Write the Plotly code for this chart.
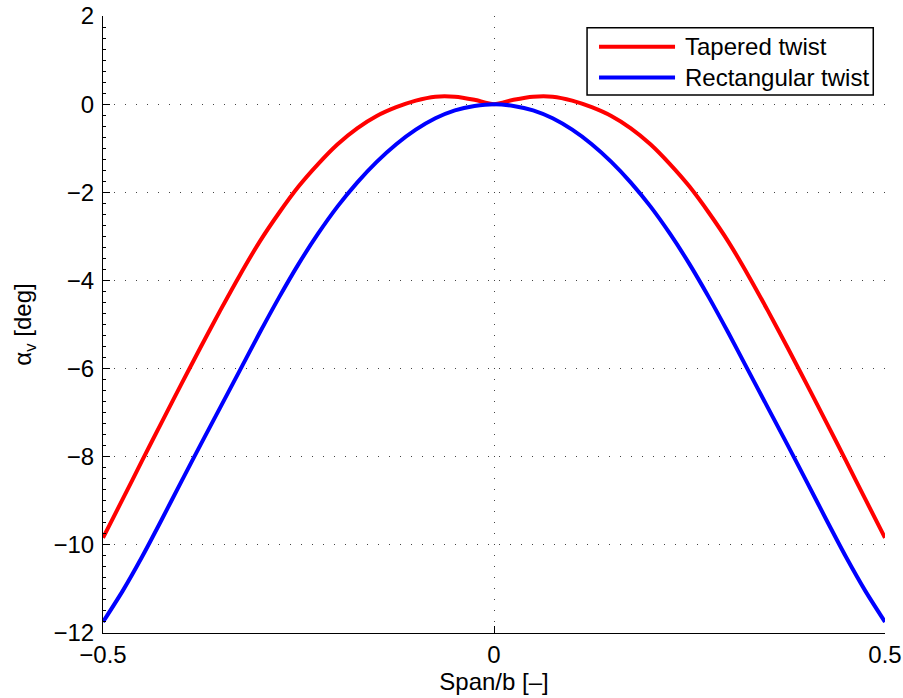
import plotly.graph_objects as go

# Spanwise station (normalised by span b)
span = [-0.5, -0.475, -0.45, -0.425, -0.4, -0.375, -0.35, -0.325, -0.3, -0.275,
        -0.25, -0.225, -0.2, -0.175, -0.15, -0.125, -0.1, -0.075, -0.05, -0.025,
        0.0, 0.025, 0.05, 0.075, 0.1, 0.125, 0.15, 0.175, 0.2, 0.225,
        0.25, 0.275, 0.3, 0.325, 0.35, 0.375, 0.4, 0.425, 0.45, 0.475, 0.5]

# Virtual twist angle [deg]
tapered = [-9.84, -8.97, -8.09, -7.22, -6.36, -5.51, -4.68, -3.88, -3.13, -2.47,
           -1.87, -1.36, -0.91, -0.55, -0.27, -0.07, 0.08, 0.17, 0.17, 0.10,
           0.00, 0.10, 0.17, 0.17, 0.08, -0.07, -0.27, -0.55, -0.91, -1.36,
           -1.87, -2.47, -3.13, -3.88, -4.68, -5.51, -6.36, -7.22, -8.09, -8.97, -9.84]

rectangular = [-11.75, -11.05, -10.27, -9.43, -8.57, -7.72, -6.88, -6.04, -5.20, -4.39,
               -3.63, -2.94, -2.32, -1.78, -1.31, -0.91, -0.58, -0.32, -0.14, -0.04,
               0.00, -0.04, -0.14, -0.32, -0.58, -0.91, -1.31, -1.78, -2.32, -2.94,
               -3.63, -4.39, -5.20, -6.04, -6.88, -7.72, -8.57, -9.43, -10.27, -11.05, -11.75]

series_names = ["Tapered twist", "Rectangular twist"]
series_colors = ["#ff0000", "#0000ff"]

y_ticks = [-12, -10, -8, -6, -4, -2, 0, 2]
x_ticks = [-0.5, 0, 0.5]

FONT = "Arial, Liberation Sans, Helvetica, sans-serif"
FS = 24

fig = go.Figure()
for name, ys, col in zip(series_names, [tapered, rectangular], series_colors):
    fig.add_trace(go.Scatter(
        x=span, y=ys, mode="lines", name=name,
        line=dict(color=col, width=4, shape="spline", smoothing=0.7),
        showlegend=False,
    ))

grid_style = dict(showgrid=True, gridcolor="#444444", gridwidth=1, griddash="1px,10px")

fig.update_xaxes(
    range=[-0.5, 0.5], tickvals=x_ticks, ticks="inside", ticklen=7, tickcolor="black",
    showline=True, linecolor="black", linewidth=1, zeroline=False, automargin=False,
    tickfont=dict(family=FONT, size=FS, color="black"),
    title=dict(text="Span/b [–]", font=dict(family=FONT, size=FS, color="black"), standoff=6),
    **grid_style,
)
fig.update_yaxes(
    range=[-12, 2], tickvals=y_ticks, ticks="inside", ticklen=7, tickcolor="black",
    showline=True, linecolor="black", linewidth=1, zeroline=False, automargin=False,
    ticklabelstandoff=3,
    minor=dict(dtick=0.25, ticks="inside", ticklen=3, tickcolor="black", showgrid=False),
    tickfont=dict(family=FONT, size=FS, color="black"),
    title=dict(text="α<sub>v</sub> [deg]", font=dict(family=FONT, size=FS, color="black"), standoff=15),
    **grid_style,
)

# Boxed legend in the upper right corner
shapes = [dict(type="rect", xref="paper", yref="paper", x0=0.619, x1=0.985, y0=0.872, y1=0.981,
               line=dict(color="black", width=1.5), fillcolor="white", layer="above")]
annotations = []
for i, (name, col) in enumerate(zip(series_names, series_colors)):
    yy = 0.950 - i * 0.0496
    shapes.append(dict(type="line", xref="paper", yref="paper", x0=0.6343, x1=0.7315, y0=yy, y1=yy,
                       line=dict(color=col, width=4), layer="above"))
    annotations.append(dict(xref="paper", yref="paper", x=0.7417, y=yy, text=name, showarrow=False,
                            xanchor="left", yanchor="middle",
                            font=dict(family=FONT, size=FS, color="black")))

fig.update_layout(
    width=903, height=698,
    margin=dict(l=103, r=18, t=16, b=65),
    paper_bgcolor="white", plot_bgcolor="white",
    shapes=shapes, annotations=annotations,
    font=dict(family=FONT, color="black"),
)

fig.write_html("out.html")
